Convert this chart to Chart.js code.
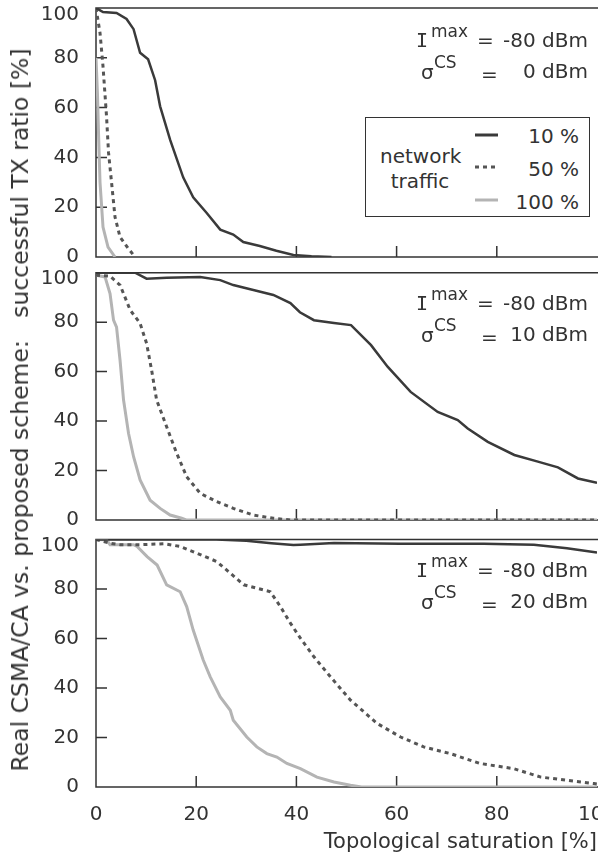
<!DOCTYPE html>
<html>
<head>
<meta charset="utf-8">
<script src="https://cdn.jsdelivr.net/npm/chart.js@4/dist/chart.umd.min.js"></script>
<style>
  body { margin: 0; background: #fff; }
  #wrap { position: relative; width: 598px; height: 855px; overflow: hidden; font-family: 'DejaVu Sans', sans-serif; color: #333; }
  canvas { position: absolute; left: 0; }
  .ytitle { position: absolute; left: 20px; top: 410px; width: max-content; font-size: 23.5px; white-space: pre; transform: translate(-50%, -50%) rotate(-90deg); }
  .t { position: absolute; font-size: 20px; line-height: 1; white-space: pre; }
  .sup { position: absolute; font-size: 17px; line-height: 1; }
  .serif { font-family: 'DejaVu Sans Mono', monospace; }
  .legend { position: absolute; left: 365px; top: 117px; width: 223px; height: 98px; border: 1.5px solid #333; background: #fff; }
</style>
</head>
<body>
<div id="wrap">
  <canvas id="c1" width="598" height="270" style="top:0px"></canvas>
  <canvas id="c2" width="598" height="268" style="top:262px"></canvas>
  <canvas id="c3" width="598" height="325" style="top:530px"></canvas>
  <div class="ytitle">Real CSMA/CA vs. proposed scheme:   successful TX ratio [%]</div>
  <div id="notes"></div>
  <div class="legend">
    <div class="t" style="left:14px;top:26px;width:80px;text-align:center;line-height:25px">network<br>traffic</div>
    <svg style="position:absolute;left:108px;top:0" width="26" height="98">
      <line x1="1" y1="17" x2="24" y2="17" stroke="#3a3a3a" stroke-width="3"/>
      <line x1="1" y1="49" x2="24" y2="49" stroke="#555" stroke-width="3" stroke-dasharray="4,4"/>
      <line x1="1" y1="82" x2="24" y2="82" stroke="#b4b4b4" stroke-width="3"/>
    </svg>
    <div class="t" style="right:10px;top:8px">10 %</div>
    <div class="t" style="right:10px;top:41px">50 %</div>
    <div class="t" style="right:10px;top:74px">100 %</div>
  </div>
</div>
<script>
// x: topological saturation [%], y: successful TX ratio [%]
const xTicks = [20, 40, 60, 80];
const yTicks = [20, 40, 60, 80];
const trafficLabels = ['10 %', '50 %', '100 %'];
const sigmaLabels = ['0 dBm', '10 dBm', '20 dBm'];

// sigma CS = 0 dBm
const p1x10 = [0, 1.4, 4.1, 6.1, 7.5, 8.8, 10.4, 11.8, 12.8, 14.8, 17.4, 19.4, 22.1, 24.8, 27.4, 29.4, 32.7, 36, 39.4, 43, 47];
const p1y10 = [100, 98.4, 98, 95.6, 91.5, 82, 79.4, 71, 60.5, 47, 32, 24, 17.7, 11, 9, 6, 4.4, 2.5, 0.8, 0.3, 0];
const p1x50 = [0, 0.8, 1.4, 2.1, 2.5, 3.2, 3.8, 4.8, 6.4, 7.8];
const p1y50 = [100, 90, 76.6, 56.5, 42, 28, 16, 8, 3.5, 0];
const p1x100 = [0, 0.3, 0.5, 0.8, 1.4, 2.4, 3.8];
const p1y100 = [80, 65, 50, 30, 12, 4, 0];

// sigma CS = 10 dBm
const p2x10 = [0, 7.8, 10.1, 14.1, 20.8, 24.8, 27.4, 31.4, 35.4, 38.8, 40.7, 43.5, 47.5, 50.9, 54.9, 58.2, 62.8, 68.2, 72.2, 74.2, 78.2, 83.5, 88.2, 92.2, 96.2, 100];
const p2y10 = [100, 100, 97.6, 98, 98.3, 97, 95, 93, 91, 87.7, 84, 80.8, 79.7, 78.8, 70.7, 62, 51.8, 43.7, 40.4, 37, 31.6, 26.3, 23.6, 21.3, 16.8, 15];
const p2x50 = [0, 2.8, 4.8, 6.8, 8.8, 10.1, 11.1, 12.1, 14.1, 16.1, 18.1, 20.8, 24.1, 27.4, 31.4, 35.4, 38.8, 100];
const p2y50 = [99, 98.6, 95, 85, 79.5, 71.4, 60.6, 48.5, 37.7, 27, 17.5, 10.8, 7.4, 4.7, 2, 0.7, 0, 0];
const p2x100 = [0, 1.8, 2.8, 3.5, 4.1, 4.8, 5.5, 6.5, 7.5, 8.8, 10.8, 12.8, 14.8, 17.1, 18, 100];
const p2y100 = [99, 98.3, 91.6, 80.8, 78, 64.6, 48.5, 35, 25.6, 16.2, 8, 4.7, 2, 0.7, 0, 0];

// sigma CS = 20 dBm
const p3x10 = [0, 24, 30, 35, 39.4, 40.8, 47.5, 60.7, 77.4, 87.4, 94, 100];
const p3y10 = [100, 100, 99.5, 98.5, 97.8, 97.9, 98.6, 98.3, 98.3, 97.9, 96.5, 94.7];
const p3x50 = [0, 2.8, 4.8, 8.8, 13.5, 16.8, 20.1, 24.1, 26.8, 29.5, 32.1, 34.8, 36.8, 38.8, 40.8, 43.5, 46.8, 50.8, 56.1, 60.8, 65.4, 70.7, 76.7, 83.4, 88.8, 94, 99.4, 100];
const p3y50 = [100, 98.5, 97.9, 97.9, 98.3, 97.2, 94.5, 91.1, 86.4, 81.7, 80.3, 78.9, 72.9, 66.2, 60.1, 52.6, 44.5, 35.1, 25.7, 20.2, 16.2, 13.5, 9.5, 7.4, 4, 2.7, 1.4, 1.2];
const p3x100 = [0, 2.1, 2.8, 4.1, 7.5, 8.2, 10.2, 12.2, 14.1, 16.8, 18.1, 19.4, 21.4, 22.8, 24.8, 26.8, 27.4, 30.1, 32.1, 34.1, 36.1, 38.1, 40.8, 44.1, 47.5, 50.8, 53, 100];
const p3y100 = [100, 99.9, 97.9, 97.9, 97.9, 97.2, 93.1, 89.7, 81.7, 78.9, 72.9, 63.4, 51.3, 44.5, 36.4, 31, 27, 20.2, 16.2, 13.5, 12.1, 9.5, 7.4, 4, 2, 0.7, 0, 0];

const axisColor = '#333';
const zip = (xs, ys) => xs.map((x, i) => ({x: x, y: ys[i]}));

Chart.defaults.font.family = "'DejaVu Sans', sans-serif";
Chart.defaults.color = axisColor;

// box on top/left/bottom plus inward tick marks
const frame = {
  id: 'frame',
  beforeDatasetsDraw(chart) {
    const ctx = chart.ctx, a = chart.chartArea;
    const x = chart.scales.x, y = chart.scales.y;
    ctx.save();
    ctx.strokeStyle = axisColor;
    ctx.lineWidth = 1.5;
    ctx.beginPath();
    ctx.moveTo(chart.width, a.top);
    ctx.lineTo(a.left, a.top);
    ctx.lineTo(a.left, a.bottom);
    ctx.lineTo(chart.width, a.bottom);
    xTicks.forEach(v => {
      const px = x.getPixelForValue(v);
      ctx.moveTo(px, a.bottom);
      ctx.lineTo(px, a.bottom - 11);
    });
    yTicks.forEach(v => {
      const py = y.getPixelForValue(v);
      ctx.moveTo(a.left, py);
      ctx.lineTo(a.left + 11, py);
    });
    ctx.stroke();
    ctx.restore();
  }
};

function makePanel(id, series, padTop, padBottom, last) {
  const styles = [
    {borderColor: '#3a3a3a', borderWidth: 2.5, borderDash: []},
    {borderColor: '#555555', borderWidth: 3, borderDash: [4, 4]},
    {borderColor: '#b4b4b4', borderWidth: 3, borderDash: []}
  ];
  return new Chart(document.getElementById(id), {
    type: 'line',
    data: {
      datasets: series.map((s, i) => Object.assign({
        label: trafficLabels[i],
        data: zip(s[0], s[1]),
        pointRadius: 0,
        tension: 0,
        fill: false
      }, styles[i]))
    },
    options: {
      responsive: false,
      animation: false,
      devicePixelRatio: 1,
      layout: {padding: {top: padTop, bottom: padBottom, left: 0, right: 1}},
      plugins: {legend: {display: false}, tooltip: {enabled: false}},
      scales: {
        x: {
          type: 'linear', min: 0, max: 100,
          grid: {display: false, drawTicks: false},
          border: {display: false},
          ticks: {display: last, stepSize: 20, padding: 16, font: {size: 20}, color: axisColor},
          title: {display: last, text: 'Topological saturation [%]', align: 'end', font: {size: 21}, color: axisColor, padding: {top: 0, bottom: 0}},
          afterFit: s => {
            s.height = last ? 68 : 0;
            s.paddingLeft = 0;
            s.paddingRight = 0;
          }
        },
        y: {
          min: 0, max: 100,
          grid: {display: false, drawTicks: false},
          border: {display: false},
          // the top label sits just below the frame, as in the original
          ticks: {
            stepSize: 20, padding: 17, color: axisColor,
            font: {size: 20, lineHeight: 0.65},
            callback: v => v === 100 ? ['', '100'] : String(v)
          },
          afterFit: s => { s.width = 96; s.paddingTop = 0; s.paddingBottom = 0; }
        }
      }
    },
    plugins: [frame]
  });
}

makePanel('c1', [[p1x10, p1y10], [p1x50, p1y50], [p1x100, p1y100]], 8, 13, false);
makePanel('c2', [[p2x10, p2y10], [p2x50, p2y50], [p2x100, p2y100]], 10.7, 10, false);
makePanel('c3', [[p3x10, p3y10], [p3x50, p3y50], [p3x100, p3y100]], 9.5, 0, true);

// parameter annotations: baselines of the two lines in each panel
const noteTops = [45, 308, 575];
const notes = document.getElementById('notes');
noteTops.forEach((b, i) => {
  const t1 = b - 15, t2 = b + 31 - 15;
  notes.insertAdjacentHTML('beforeend',
    '<div class="t serif" style="left:416px;top:' + t1 + 'px">I</div>' +
    '<div class="sup" style="left:431px;top:' + (t1 - 7) + 'px">max</div>' +
    '<div class="t" style="left:477px;top:' + t1 + 'px">=</div>' +
    '<div class="t" style="right:10px;top:' + t1 + 'px">-80 dBm</div>' +
    '<div class="t" style="left:421px;top:' + (t2 + 1) + 'px">σ</div>' +
    '<div class="sup" style="left:434px;top:' + (t2 - 7) + 'px">CS</div>' +
    '<div class="t" style="left:481px;top:' + (t2 + 3) + 'px">=</div>' +
    '<div class="t" style="right:10px;top:' + t2 + 'px">' + sigmaLabels[i] + '</div>');
});
</script>
</body>
</html>
